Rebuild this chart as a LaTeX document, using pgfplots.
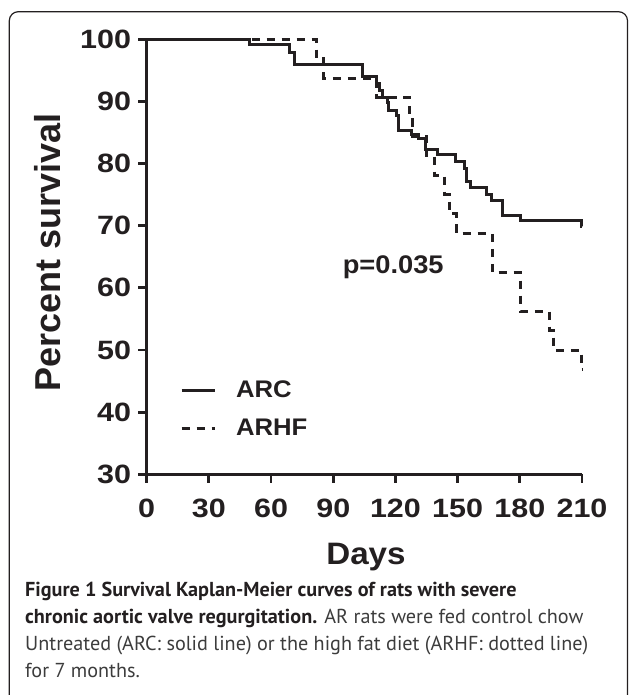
\documentclass[border=0pt]{standalone}
\usepackage{fontspec}
\setmainfont{Liberation Sans}
\newfontfamily\tickfont[FakeStretch=1.15]{Liberation Sans}
\newfontfamily\chartfont[FakeStretch=1.07]{Liberation Sans}
\newfontfamily\capfont{PT Sans}
\usepackage{pgfplots}
\pgfplotsset{compat=1.18}
\definecolor{ink}{HTML}{231F20}
\definecolor{captxt}{HTML}{3C3C3C}

\begin{document}
\begin{tikzpicture}
\useasboundingbox (0,0) rectangle (629bp,695bp);
% frame round the figure
\draw[ink, line width=1.2bp, rounded corners=9bp] (9.3bp,-5bp) -- (9.3bp,683.3bp) -- (627.5bp,683.3bp) -- (627.5bp,-5bp);
\begin{axis}[
  at={(146.7bp,220.7bp)}, anchor=south west,
  scale only axis, width=435.3bp, height=435bp,
  xmin=0, xmax=210, ymin=30, ymax=100,
  axis x line*=bottom, axis y line*=left,
  xtick={0,30,...,210}, ytick={30,40,...,100},
  tick align=outside, major tick length=8.5bp,
  axis line style={ink, line width=2.8bp},
  tick style={ink, line width=2.8bp},
  /pgf/number format/assume math mode=true,
  tick label style={font=\tickfont\bfseries\fontsize{26.5bp}{30bp}\selectfont, text=ink, inner sep=0pt},
  xticklabel style={yshift=-16bp},
  yticklabel style={xshift=-7bp},
  legend style={at={(axis cs:16,40.5)}, anchor=west, draw=none, fill=none, inner sep=0pt,
    row sep=20bp, column sep=20bp, nodes={inner sep=0pt},
    font=\chartfont\bfseries\fontsize{24bp}{28bp}\selectfont, text=ink},
  legend cell align=left,
  legend image code/.code={\draw[#1] (0bp,0bp) -- (33bp,0bp);},
  clip=false,
]
\addplot[ink, line width=3bp, const plot] coordinates {
  (0,100) (49.5,99.1) (68.8,97.8) (71.2,95.9) (104.2,94.0) (111,92.9) (112.3,91.8)
  (113.6,90.7) (116.3,89.8) (116.8,88.6) (120.3,87.7) (121.6,85.4) (127.6,84.6)
  (131,84.0) (134.5,82.2) (140.4,81.4) (148.9,80.3) (153.2,79.2) (154.5,77.1)
  (156,76.1) (163.7,75.0) (166.1,74.1) (171.7,71.7) (180.5,70.8) (209.7,69.9) (210,69.9)};
\addlegendentry{ARC}
\addplot[ink, line width=3bp, const plot, dash pattern=on 8.3bp off 6.7bp] coordinates {
  (0,100) (81.8,96.9) (85.4,93.75) (111,90.6) (127,87.5) (128.3,84.4) (134.8,81.25)
  (138.8,78.1) (143.6,75) (146,71.9) (149.5,68.75) (166.6,62.5) (180.3,56.25)
  (194.3,53.1) (196.2,50) (209.7,46.9) (210,46.9)};
\addlegendentry{ARHF}
\node[anchor=west, inner sep=0pt, text=ink, font=\chartfont\bfseries\fontsize{25.5bp}{28bp}\selectfont] at (axis cs:94.5,63.3) {p=0.035};
\end{axis}
% axis titles
\node[rotate=90, anchor=base, inner sep=0pt, text=ink, font=\bfseries\fontsize{36bp}{40bp}\selectfont] at (60bp,442.5bp) {Percent survival};
\node[anchor=base, inner sep=0pt, text=ink, font=\chartfont\bfseries\fontsize{31bp}{34bp}\selectfont] at (366bp,130bp) {Days};
% caption
\begin{scope}[every node/.style={anchor=base west, inner sep=0pt, font=\capfont\fontsize{20.2bp}{24bp}\selectfont, text=captxt}]
\node at (25bp,98bp) {\textbf{\color{ink}Figure 1 Survival Kaplan-Meier curves of rats with severe}};
\node at (25bp,71.3bp) {\textbf{\color{ink}chronic aortic valve regurgitation.} AR rats were fed control chow};
\node at (25bp,44.6bp) {Untreated (ARC: solid line) or the high fat diet (ARHF: dotted line)};
\node at (25bp,18bp) {for 7 months.};
\end{scope}
\end{tikzpicture}
\end{document}
